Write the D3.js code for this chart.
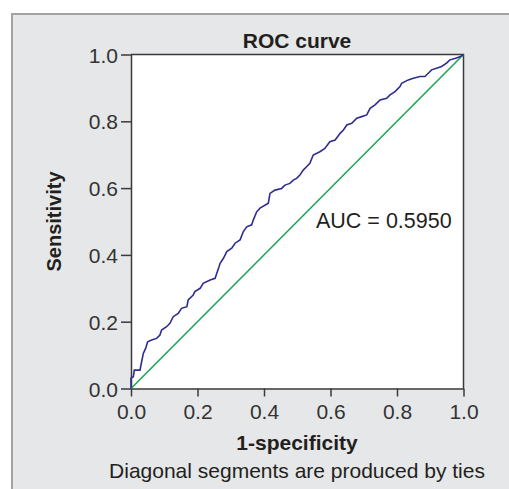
<!DOCTYPE html>
<html>
<head>
<meta charset="utf-8">
<script src="https://cdn.jsdelivr.net/npm/d3@7"></script>
<style>
  html, body { margin: 0; padding: 0; background: #fff; }
  svg { display: block; }
  text { font-family: "Liberation Sans", Arial, sans-serif; fill: #231f20; }
</style>
</head>
<body>
<svg id="chart" width="509" height="489"></svg>
<script>
// ROC curve points: 1-specificity / sensitivity
var fpr = [0, 0, 0, 0.007, 0.010, 0.027, 0.032, 0.037, 0.044, 0.050, 0.062, 0.077, 0.087, 0.092,
  0.107, 0.117, 0.127, 0.142, 0.152, 0.168, 0.172, 0.187, 0.192, 0.208, 0.217, 0.238, 0.253,
  0.258, 0.265, 0.268, 0.278, 0.288, 0.303, 0.313, 0.328, 0.338, 0.348, 0.363, 0.368, 0.378,
  0.388, 0.413, 0.418, 0.433, 0.453, 0.463, 0.478, 0.488, 0.498, 0.508, 0.518, 0.528, 0.538,
  0.548, 0.568, 0.583, 0.598, 0.614, 0.629, 0.639, 0.649, 0.664, 0.679, 0.694, 0.709, 0.719,
  0.734, 0.749, 0.769, 0.779, 0.794, 0.809, 0.814, 0.834, 0.849, 0.869, 0.884, 0.894, 0.904,
  0.919, 0.934, 0.949, 0.959, 0.974, 0.989, 1]
var tpr = [0, 0.010, 0.031, 0.035, 0.055, 0.055, 0.080, 0.105, 0.120, 0.140, 0.145, 0.150, 0.160,
  0.175, 0.185, 0.195, 0.215, 0.225, 0.240, 0.245, 0.265, 0.280, 0.290, 0.300, 0.315, 0.325,
  0.330, 0.345, 0.365, 0.375, 0.390, 0.410, 0.420, 0.435, 0.445, 0.470, 0.484, 0.490, 0.505,
  0.529, 0.540, 0.555, 0.584, 0.594, 0.599, 0.609, 0.614, 0.624, 0.629, 0.639, 0.654, 0.664,
  0.674, 0.699, 0.709, 0.719, 0.739, 0.744, 0.764, 0.774, 0.789, 0.794, 0.809, 0.814, 0.819,
  0.839, 0.849, 0.864, 0.869, 0.879, 0.889, 0.904, 0.914, 0.924, 0.929, 0.934, 0.934, 0.944,
  0.954, 0.959, 0.964, 0.974, 0.984, 0.988, 0.993, 1]
var reference = [0, 1]
var tickValues = [0, 0.2, 0.4, 0.6, 0.8, 1.0]
var aucLabel = 'AUC = 0.5950'

var svg = d3.select('#chart')

// grey panel behind everything
svg.append('rect')
  .attr('x', 12).attr('y', 14)
  .attr('width', 520).attr('height', 500)
  .style('fill', '#e6e7e8')
  .style('stroke', '#a3a3a3')
  .style('stroke-width', 2)

var plotLeft = 131, plotRight = 463.5, plotTop = 54.5, plotBottom = 388.5

var x = d3.scaleLinear().domain([0, 1]).range([plotLeft, plotRight])
var y = d3.scaleLinear().domain([0, 1]).range([plotBottom, plotTop])

svg.append('rect')
  .attr('x', plotLeft).attr('y', plotTop)
  .attr('width', plotRight - plotLeft).attr('height', plotBottom - plotTop)
  .style('fill', '#fff')

// axes
var xAxis = svg.append('g')
  .attr('transform', 'translate(0,' + plotBottom + ')')
  .call(d3.axisBottom(x).tickValues(tickValues).tickFormat(d3.format('.1f')).tickSizeInner(8).tickSizeOuter(0).tickPadding(4))
var yAxis = svg.append('g')
  .attr('transform', 'translate(' + plotLeft + ',0)')
  .call(d3.axisLeft(y).tickValues(tickValues).tickFormat(d3.format('.1f')).tickSizeInner(10).tickSizeOuter(0).tickPadding(3))

svg.selectAll('.domain, .tick line').style('stroke', '#3a3a3a').style('stroke-width', 1.5)
svg.selectAll('.tick text')
  .style('font-family', '"Liberation Sans", Arial, sans-serif')
  .style('font-size', '21px')
  .style('fill', '#333')
xAxis.selectAll('.tick text').attr('dy', '0.9em')
yAxis.selectAll('.tick text').attr('dy', '0.36em')

// frame top and right
svg.append('path')
  .attr('d', 'M' + plotLeft + ',' + plotTop + 'H' + plotRight + 'V' + plotBottom)
  .style('fill', 'none')
  .style('stroke', '#3a3a3a')
  .style('stroke-width', 1.5)

// diagonal reference
svg.append('line')
  .attr('x1', x(reference[0])).attr('y1', y(reference[0]))
  .attr('x2', x(reference[1])).attr('y2', y(reference[1]))
  .style('stroke', '#22a454')
  .style('stroke-width', 1.6)

// roc curve
var pts = fpr.map(function (d, i) { return [d, tpr[i]] })
var line = d3.line()
  .x(function (d) { return x(d[0]) })
  .y(function (d) { return y(d[1]) })
svg.append('path')
  .datum(pts)
  .attr('d', line)
  .style('fill', 'none')
  .style('stroke', '#2e2d8f')
  .style('stroke-width', 1.6)

// labels
svg.append('text')
  .attr('x', 297).attr('y', 48)
  .attr('text-anchor', 'middle')
  .style('font-size', '21px').style('font-weight', 'bold')
  .text('ROC curve')

svg.append('text')
  .attr('x', 316).attr('y', 228)
  .style('font-size', '21.5px')
  .text(aucLabel)

svg.append('text')
  .attr('x', 297).attr('y', 450)
  .attr('text-anchor', 'middle')
  .style('font-size', '21px').style('font-weight', 'bold')
  .text('1-specificity')

svg.append('text')
  .attr('transform', 'translate(61,' + (plotTop + plotBottom) / 2 + ') rotate(-90)')
  .attr('text-anchor', 'middle')
  .style('font-size', '20px').style('font-weight', 'bold')
  .text('Sensitivity')

svg.append('text')
  .attr('x', 297).attr('y', 478)
  .attr('text-anchor', 'middle')
  .style('font-size', '21px')
  .text('Diagonal segments are produced by ties')
</script>
</body>
</html>
